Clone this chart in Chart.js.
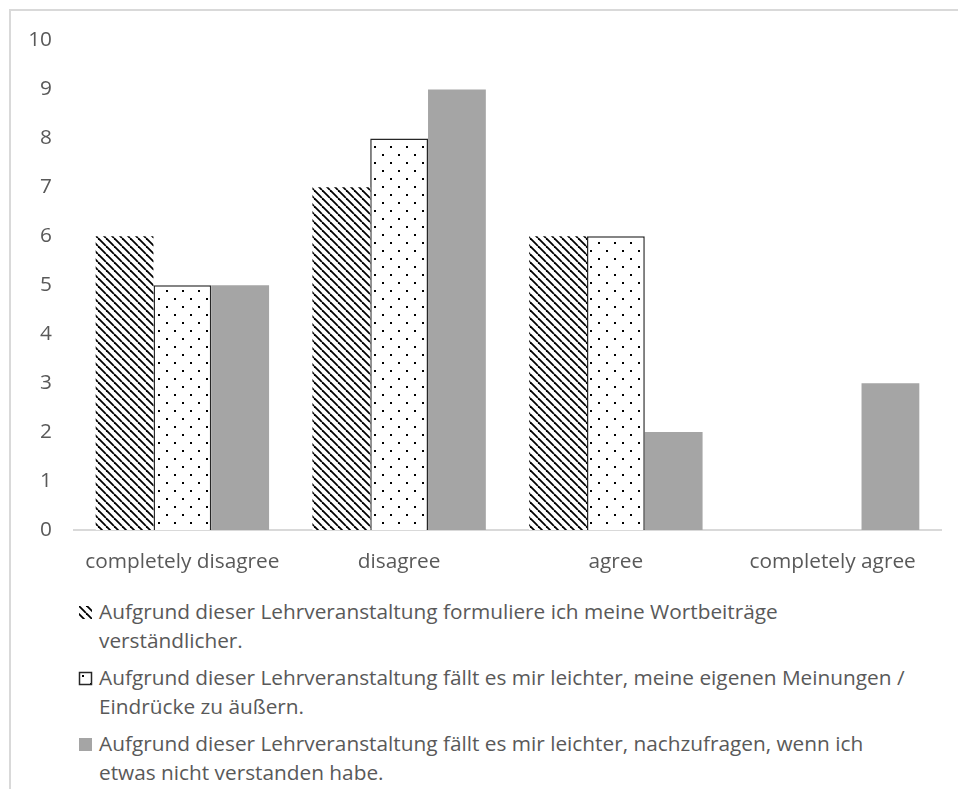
<!DOCTYPE html>
<html>
<head>
<meta charset="utf-8">
<script src="https://cdn.jsdelivr.net/npm/chart.js@4"></script>
<style>
  html, body { margin: 0; padding: 0; background: #fff; }
  body { width: 958px; height: 789px; position: relative; overflow: hidden; }
  #frame { position: absolute; left: 9px; top: 9px; width: 960px; height: 800px;
           border-left: 2px solid #d9d9d9; border-top: 2px solid #d9d9d9; box-sizing: border-box; }
  #wrap { position: absolute; left: 10px; top: 6px; width: 948px; height: 580px; }
  #legend { position: absolute; left: 78px; top: 597px; font-family: "Open Sans", sans-serif;
            font-size: 20.8px; color: #595959; }
  .item { position: relative; padding-left: 21px; margin-bottom: 8px; }
  .item div { line-height: 29px; white-space: nowrap; }
  .item canvas { position: absolute; left: 0; top: 8px; }
</style>
</head>
<body>
<div id="frame"></div>
<div id="wrap"><canvas id="chart" width="948" height="580"></canvas></div>
<div id="legend"></div>
<script>
// Survey answers (counts) for three statements
const categories = ['completely disagree', 'disagree', 'agree', 'completely agree'];
const yTicks = [0, 1, 2, 3, 4, 5, 6, 7, 8, 9, 10];
const labelsSeries = [
  ['Aufgrund dieser Lehrveranstaltung formuliere ich meine Wortbeiträge', 'verständlicher.'],
  ['Aufgrund dieser Lehrveranstaltung fällt es mir leichter, meine eigenen Meinungen /', 'Eindrücke zu äußern.'],
  ['Aufgrund dieser Lehrveranstaltung fällt es mir leichter, nachzufragen, wenn ich', 'etwas nicht verstanden habe.']
];
const wortbeitraege = [6, 7, 6, 0];
const meinungen = [5, 8, 6, 0];
const nachfragen = [5, 9, 2, 3];

// Fill patterns
function hatchTile() {
  const c = document.createElement('canvas');
  c.width = 8; c.height = 8;
  const g = c.getContext('2d');
  g.fillStyle = '#fff'; g.fillRect(0, 0, 8, 8);
  g.strokeStyle = '#000'; g.lineWidth = 1.8;
  for (const o of [-8, 0, 8]) {
    g.beginPath(); g.moveTo(o, 0); g.lineTo(o + 8, 8); g.stroke();
  }
  return c;
}
function dotTile() {
  const c = document.createElement('canvas');
  c.width = 16; c.height = 16;
  const g = c.getContext('2d');
  g.fillStyle = '#fff'; g.fillRect(0, 0, 16, 16);
  g.fillStyle = '#000';
  g.fillRect(4, 4, 2, 2);
  g.fillRect(12, 12, 2, 2);
  return c;
}
const ctx = document.getElementById('chart').getContext('2d');
const hatch = ctx.createPattern(hatchTile(), 'repeat');
const dots = ctx.createPattern(dotTile(), 'repeat');
const grey = '#a5a5a5';

const tickFont = { family: '"Open Sans", sans-serif', size: 20.8 };

new Chart(ctx, {
  type: 'bar',
  data: {
    labels: categories,
    datasets: [
      { label: labelsSeries[0].join(' '), data: wortbeitraege, backgroundColor: hatch, borderWidth: 0 },
      { label: labelsSeries[1].join(' '), data: meinungen, backgroundColor: dots,
        borderColor: '#262626',
        borderWidth: c => c.raw === 0 ? 0 : { top: 1.5, left: 1.5, right: 1.5, bottom: 0 },
        borderSkipped: false },
      { label: labelsSeries[2].join(' '), data: nachfragen, backgroundColor: grey, borderWidth: 0 }
    ]
  },
  options: {
    responsive: false,
    animation: false,
    layout: { padding: { top: 11, right: 17, bottom: 6, left: 0 } },
    datasets: { bar: { categoryPercentage: 0.8, barPercentage: 1.0 } },
    plugins: { legend: { display: false }, tooltip: { enabled: false } },
    scales: {
      x: {
        grid: { display: false, drawTicks: false },
        border: { display: true, color: '#d9d9d9', width: 2 },
        ticks: { color: '#595959', font: tickFont, padding: 20, maxRotation: 0 },
        afterFit: s => { s.height = 50; }
      },
      y: {
        min: 0, max: 10,
        afterBuildTicks: s => { s.ticks = yTicks.map(v => ({ value: v })); },
        grid: { display: false, drawTicks: false },
        border: { display: false },
        ticks: { color: '#595959', font: tickFont, padding: 22 },
        afterFit: s => { s.width = 64; }
      }
    }
  }
});

// Legend below the plot
const legend = document.getElementById('legend');
const swatches = [hatchTile, dotTile, null];
labelsSeries.forEach((lines, i) => {
  const item = document.createElement('div');
  item.className = 'item';
  const sw = document.createElement('canvas');
  sw.width = 15; sw.height = 15;
  const g = sw.getContext('2d');
  if (i === 2) { g.fillStyle = grey; g.fillRect(1, 1, 13, 13); }
  else {
    g.fillStyle = g.createPattern(swatches[i](), 'repeat');
    g.fillRect(1, 1, 13, 13);
    if (i === 1) { g.strokeStyle = '#262626'; g.lineWidth = 1.5; g.strokeRect(1.5, 1.5, 12, 12); }
  }
  item.appendChild(sw);
  lines.forEach(t => { const d = document.createElement('div'); d.textContent = t; item.appendChild(d); });
  legend.appendChild(item);
});
</script>
</body>
</html>
